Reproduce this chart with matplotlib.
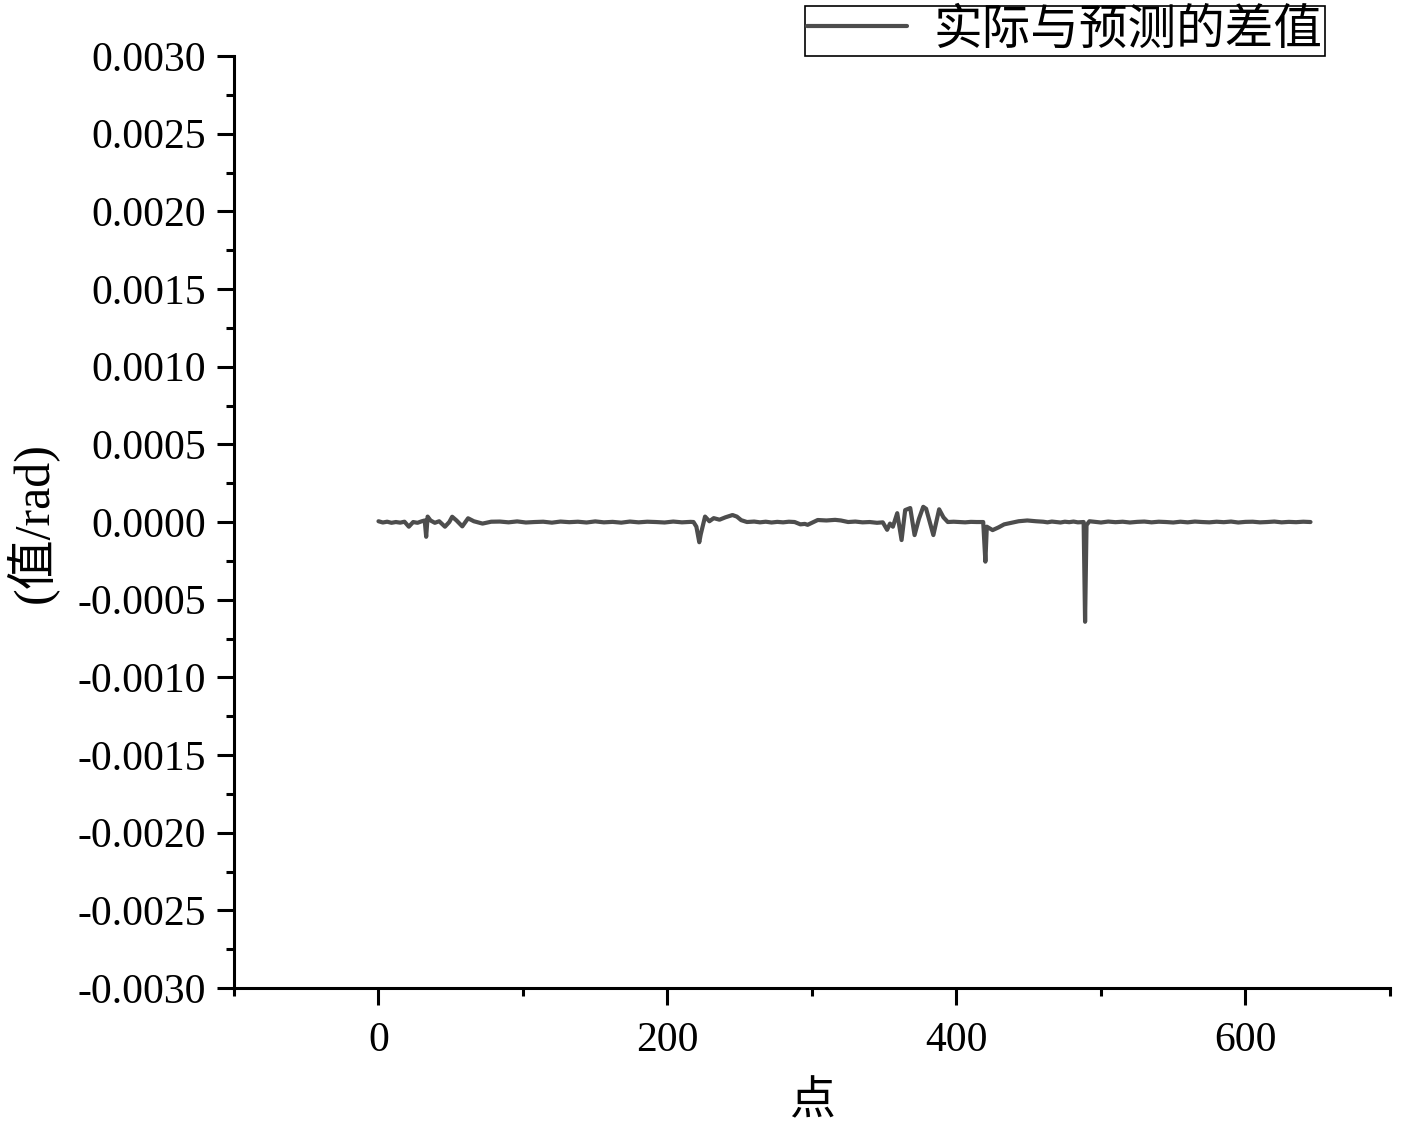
import numpy as np
import matplotlib
matplotlib.use("Agg")
import matplotlib.pyplot as plt
from matplotlib.ticker import MultipleLocator, FormatStrFormatter

# ---- data (difference, in units of 1e-4 rad) ----
x_pts = [0, 3, 6, 9, 12, 15, 18, 21, 24, 27, 30, 32, 33, 34, 36, 39, 42, 46, 49, 51,
         54, 58, 62, 66, 72, 78,
         84, 90, 96, 102, 108, 114, 120, 126, 132, 138, 144, 150, 156, 162, 168, 174,
         180, 186, 192, 198, 204, 210, 216,
         218, 220, 222, 223, 226, 229, 232, 236, 240, 245, 248, 251, 255,
         260, 264, 268, 272, 276, 280, 284, 288,
         292, 295, 297, 300, 304, 310, 316, 320, 325, 330, 335, 340, 345, 349,
         352, 354, 356, 359, 362, 364.5, 368, 371, 374, 377, 379, 384, 388, 391, 394,
         398, 402, 406, 410, 414, 418.5, 420, 421, 425, 429, 433, 438, 443, 449, 455,
         460, 463, 466, 469, 472, 475, 478, 481, 484, 488, 489, 490, 492,
         495, 500, 505, 510, 515, 520, 525, 530, 535, 540, 545, 550, 555, 560, 565,
         570, 575, 580, 585, 590, 595, 600, 605, 610, 615, 620, 625, 630, 635, 640, 645]
diff_e4 = [0.05, -0.03, 0.02, -0.05, 0.0, -0.04, 0.02, -0.30, 0.0, -0.05, 0.05, 0.10,
           -0.95, 0.35, 0.10, -0.05, 0.05, -0.30, 0.0, 0.34,
           0.10, -0.28, 0.24, 0.05, -0.10, 0.02,
           0.03, -0.02, 0.04, -0.03, 0.0, 0.02, -0.04, 0.03, -0.01, 0.02, -0.03, 0.04,
           -0.02, 0.01, -0.04, 0.03, -0.02, 0.02, 0.0, -0.03, 0.03, -0.02, 0.01,
           0.0, -0.30, -1.30, -0.80, 0.35, 0.05, 0.25, 0.15, 0.30, 0.45, 0.35, 0.12, 0.0,
           0.03, -0.02, 0.02, -0.03, 0.01, -0.02, 0.02, 0.0,
           -0.15, -0.12, -0.18, -0.05, 0.13, 0.10, 0.14, 0.10, 0.0, 0.03, -0.02, 0.0,
           -0.05, -0.02,
           -0.50, -0.10, -0.30, 0.57, -1.16, 0.77, 0.90, -0.84, 0.20, 0.98, 0.85, -0.84,
           0.82, 0.30, 0.0,
           0.02, 0.0, -0.02, 0.01, 0.0, 0.0, -2.55, -0.30, -0.52, -0.35, -0.15, -0.05,
           0.05, 0.10, 0.05,
           0.02, -0.02, 0.03, 0.0, -0.03, 0.02, -0.01, 0.03, -0.02, 0.0, -6.42, -0.20, 0.05,
           0.02, -0.03, 0.03, -0.01, 0.02, -0.03, 0.01, 0.03, -0.02, 0.02, 0.0, -0.03,
           0.02, -0.02, 0.03, 0.0, -0.02, 0.02, -0.01, 0.03, -0.03, 0.01, 0.02, -0.02,
           0.0, 0.03, -0.02, 0.01, -0.01, 0.02, 0.0]
series_label = "实际与预测的差值"
x_label = "点"
y_label = "(值/rad)"

x = np.array(x_pts, dtype=float)
y = np.array(diff_e4) * 1e-4

fam = ["Liberation Serif", "Noto Sans CJK SC"]
plt.rcParams["font.family"] = fam

fig = plt.figure(figsize=(14.13, 11.27), dpi=100)
ax = fig.add_axes([0.1656, 0.1233, 0.8181, 0.8270])

line, = ax.plot(x, y, color="#4d4d4d", lw=3.0, label=series_label,
                solid_joinstyle="round", solid_capstyle="round")

ax.set_xlim(-100, 700)
ax.set_ylim(-0.003, 0.003)
ax.xaxis.set_major_locator(MultipleLocator(200))
ax.xaxis.set_minor_locator(MultipleLocator(100))
ax.yaxis.set_major_locator(MultipleLocator(0.0005))
ax.yaxis.set_minor_locator(MultipleLocator(0.00025))
ax.yaxis.set_major_formatter(FormatStrFormatter("%.4f"))

for s in ["top", "right"]:
    ax.spines[s].set_visible(False)
for s in ["left", "bottom"]:
    ax.spines[s].set_linewidth(2.2)

ax.tick_params(which="major", direction="out", length=12, width=2.2, labelsize=30, pad=8)
ax.tick_params(which="minor", direction="out", length=6, width=2.2)
ax.tick_params(axis="x", which="major", pad=12)

ax.set_xlabel(x_label, fontsize=33, labelpad=16)
ax.set_ylabel(y_label, fontsize=36, labelpad=14)

leg = ax.legend(loc="upper right", bbox_to_anchor=(0.944, 1.054), borderaxespad=0,
                fontsize=35, frameon=True, fancybox=False, framealpha=1,
                edgecolor="black", borderpad=0.05, handlelength=2.05,
                handletextpad=0.55)
leg.get_frame().set_linewidth(1.2)

fig.savefig("out.png", dpi=100, facecolor="white")
